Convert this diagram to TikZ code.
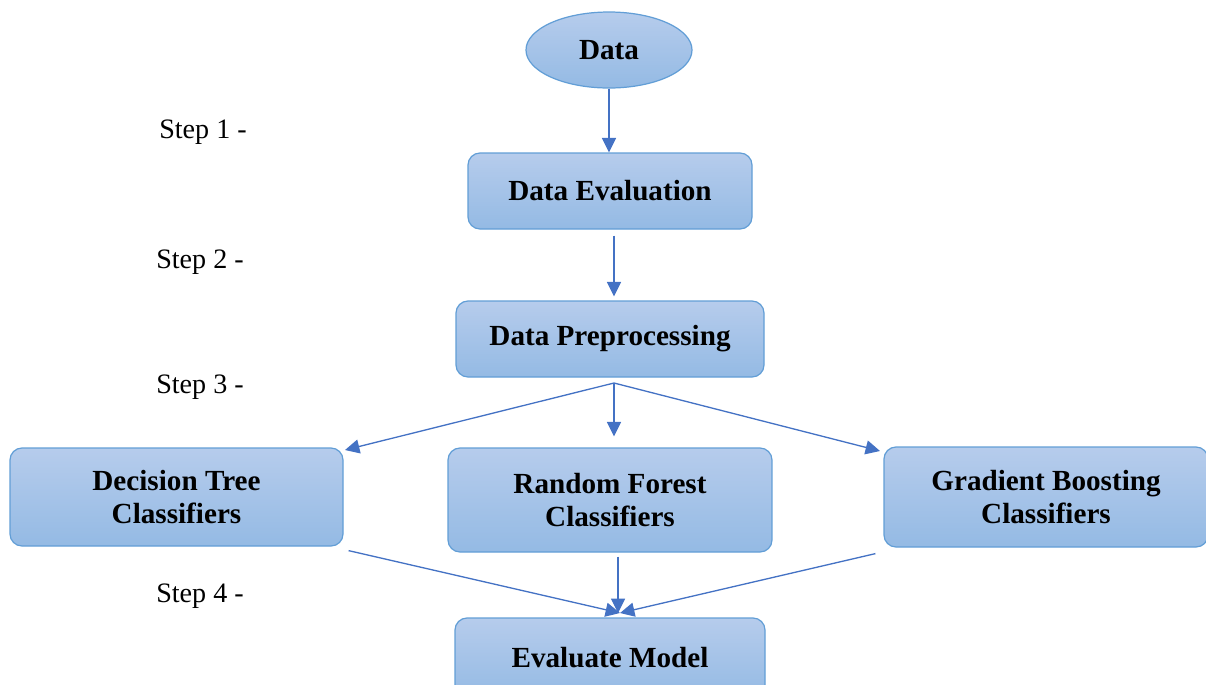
\documentclass[tikz,border=0pt]{standalone}
\usepackage{fontspec}
\setmainfont{Liberation Serif}
\usepackage{xcolor}
\usetikzlibrary{arrows.meta,calc,shapes.geometric}
\definecolor{boxtop}{RGB}{182,204,236}
\definecolor{boxbot}{RGB}{148,186,228}
\definecolor{boxline}{RGB}{98,158,214}
\definecolor{arrowblue}{RGB}{68,114,196}
\tikzset{
  stage/.style={draw=boxline,line width=.7pt,rounded corners=.24cm,top color=boxtop,bottom color=boxbot,
    align=center,font=\fontsize{16.6}{19}\selectfont\bfseries,inner sep=0pt},
  flow/.style={arrowblue,line width=.75pt,-{Triangle[length=8.2pt,width=8pt]}},
  steplbl/.style={font=\fontsize{16}{19}\selectfont}
}
\begin{document}
\begin{tikzpicture}[x=.02cm,y=-.02cm]
\useasboundingbox (0,0) rectangle (1206,684);
\node[ellipse,stage,minimum width=166*.02cm,minimum height=76*.02cm] (data) at (609,50){Data};
\node[stage,minimum width=284*.02cm,minimum height=76*.02cm] (eval) at (610,191){Data Evaluation};
\node[stage,minimum width=308*.02cm,minimum height=76*.02cm] (prep) at (610,339){Data Preprocessing};
\node[stage,minimum width=333*.02cm,minimum height=98*.02cm] (dt) at (176.5,497){Decision Tree\\Classifiers};
\node[stage,minimum width=324*.02cm,minimum height=104*.02cm] (rf) at (610,500){Random Forest\\Classifiers};
\node[stage,minimum width=324*.02cm,minimum height=100*.02cm] (gb) at (1046,497){Gradient Boosting\\Classifiers};
\node[stage,minimum width=310*.02cm,minimum height=80*.02cm] (model) at (610,658){Evaluate Model};
% step labels
\node[steplbl] (s1) at (203,132){Step 1 -};
\node[steplbl] (s2) at (200,262){Step 2 -};
\node[steplbl] (s3) at (200,387){Step 3 -};
\node[steplbl] (s4) at (200,596){Step 4 -};
% arrows
\coordinate (split) at (614,383);
\coordinate (join) at (620,613);
\draw[flow] (data.south) -- (data.south |- eval.north);
\draw[flow] ($(eval.south)+(4,6)$) -- ($(prep.north)+(4,-4)$);
\draw[flow] (split) -- (345,450);
\draw[flow] (split) -- ($(rf.north)+(4,-11)$);
\draw[flow] (split) -- (880,451);
\draw[flow] ($(dt.south east)+(5,4)$) -- (join);
\draw[flow] ($(rf.south)+(8,4)$) -- ($(join)+(-2,0)$);
\draw[flow] ($(gb.south west)+(-8,6)$) -- (join);
\end{tikzpicture}
\end{document}
